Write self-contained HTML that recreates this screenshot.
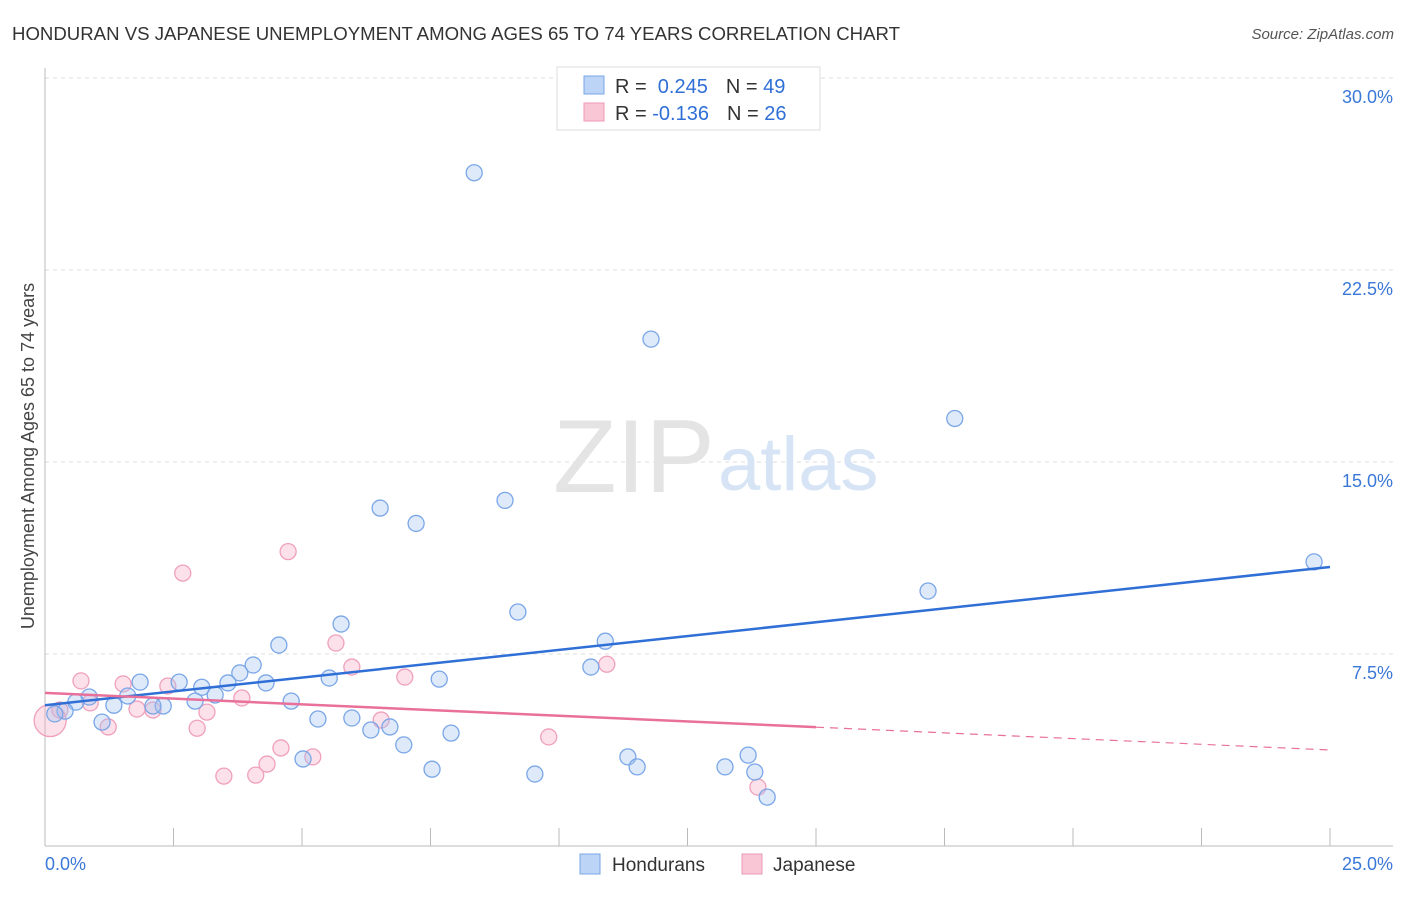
<!DOCTYPE html>
<html><head><meta charset="utf-8"><style>
body{margin:0;background:#fff;font-family:"Liberation Sans",sans-serif}
svg text{font-family:"Liberation Sans",sans-serif}
</style></head><body>
<svg width="1406" height="892" xmlns="http://www.w3.org/2000/svg">
<text x="12" y="40" font-size="18" fill="#333" textLength="888" lengthAdjust="spacingAndGlyphs">HONDURAN VS JAPANESE UNEMPLOYMENT AMONG AGES 65 TO 74 YEARS CORRELATION CHART</text>
<text x="1394" y="39" font-size="15" fill="#555" font-style="italic" text-anchor="end">Source: ZipAtlas.com</text>
<g id="grid"></g>
<g><text x="553" y="492" font-size="104" fill="#e4e4e4" font-family="Liberation Serif">ZIP</text><text x="718" y="490" font-size="76" fill="#d6e4f5">atlas</text></g>
<text transform="translate(34,456) rotate(-90)" font-size="18" fill="#444" text-anchor="middle">Unemployment Among Ages 65 to 74 years</text>
<g id="marks"></g>
<g>
<rect x="557" y="67" width="263" height="63" fill="#fff" stroke="#ddd"/>
<rect x="584" y="76" width="20" height="18" fill="#bcd4f5" stroke="#7aa6e8"/>
<rect x="584" y="103" width="20" height="18" fill="#f9c6d6" stroke="#ef9ab6"/>
<text x="615" y="93" font-size="20" fill="#333">R = <tspan fill="#2f6fd6">&#160;0.245</tspan><tspan dx="18">N = </tspan><tspan fill="#2f6fd6">49</tspan></text>
<text x="615" y="120" font-size="20" fill="#333">R = <tspan fill="#2f6fd6">-0.136</tspan><tspan dx="18">N = </tspan><tspan fill="#2f6fd6">26</tspan></text>
</g>
<g>
<rect x="580" y="854" width="20" height="20" fill="#bcd4f5" stroke="#7aa6e8"/>
<text x="612" y="871" font-size="19" fill="#333">Hondurans</text>
<rect x="742" y="854" width="20" height="20" fill="#f9c6d6" stroke="#ef9ab6"/>
<text x="773" y="871" font-size="19" fill="#333">Japanese</text>
</g>
</svg>
<script>
const yTicks=[7.5,15,22.5,30];
const yTickLabels=["7.5%","15.0%","22.5%","30.0%"];
const xTicks=[0,2.5,5,7.5,10,12.5,15,17.5,20,22.5,25];
const hondX=[8.35,11.79,17.7,8.95,6.52,7.22,24.69,17.18,9.2,5.76,10.9,4.55,4.05,3.79,10.62,7.67,5.53,4.3,1.85,2.61,3.56,3.05,0.86,1.61,3.31,2.92,4.79,1.34,0.6,2.3,2.1,0.39,0.19,1.11,5.31,5.97,6.34,6.71,7.9,6.98,5.02,11.34,13.68,7.53,11.52,13.23,13.81,9.53,14.05];
const hondY=[26.3,19.8,16.7,13.5,13.2,12.6,11.1,9.96,9.14,8.67,8.0,7.85,7.07,6.76,6.99,6.52,6.56,6.37,6.4,6.4,6.37,6.2,5.82,5.86,5.9,5.66,5.66,5.5,5.62,5.47,5.47,5.27,5.16,4.84,4.96,5.0,4.53,4.65,4.41,3.95,3.4,3.48,3.55,3.0,3.09,3.09,2.89,2.81,1.91];
const japX=[4.73,2.68,5.66,5.97,10.93,7.0,0.7,1.52,2.39,3.83,0.88,2.1,1.79,3.15,1.23,2.96,6.54,9.8,4.59,5.21,4.32,3.48,4.1,13.87,0.29,0.1];
const japY=[11.5,10.66,7.93,6.99,7.1,6.6,6.45,6.33,6.25,5.78,5.59,5.31,5.35,5.23,4.65,4.6,4.92,4.26,3.83,3.48,3.2,2.73,2.77,2.3,5.31,4.9];
const hondTrend=[5.5,10.9];
const japTrend=[5.98,3.75];
const X=v=>45+v*51.4, Y=v=>846-v*25.6;
const NS="http://www.w3.org/2000/svg";
const svg=document.querySelector('svg'),grid=document.getElementById('grid'),marks=document.getElementById('marks');
function mk(t,a,p){const e=document.createElementNS(NS,t);for(const k in a)e.setAttribute(k,a[k]);(p||svg).appendChild(e);return e;}
yTicks.forEach((v,i)=>{
 const l=mk('line',{x1:45,x2:1393,y1:Y(v),y2:Y(v),stroke:'#ddd','stroke-dasharray':'4,4'},grid);
 
 
 const t=mk('text',{x:1393,y:Y(v)+25,'font-size':18,fill:'#3a78d8','text-anchor':'end'},grid);t.textContent=yTickLabels[i];
 
 
});
mk('line',{x1:45,x2:45,y1:68,y2:846,stroke:'#bbb'},grid);
mk('line',{x1:45,x2:1393,y1:846,y2:846,stroke:'#bbb'},grid);
xTicks.forEach(v=>{const l=mk('line',{x1:X(v),x2:X(v),y1:828,y2:846,stroke:'#bbb'},grid);
 
 });
let t=mk('text',{x:45,y:870,'font-size':18,fill:'#3a78d8'});t.textContent='0.0%';


t=mk('text',{x:1393,y:870,'font-size':18,fill:'#3a78d8','text-anchor':'end'});t.textContent='25.0%';


japX.forEach((x,i)=>{const c=mk('circle',{cx:X(x),cy:Y(japY[i]),r:i==japX.length-1?16:8,fill:'rgba(246,170,196,0.35)',stroke:'#f0a0bc','stroke-width':1.3},marks);
 
 });
hondX.forEach((x,i)=>{const c=mk('circle',{cx:X(x),cy:Y(hondY[i]),r:8,fill:'rgba(160,195,240,0.35)',stroke:'#7aa6e8','stroke-width':1.3},marks);
 
 });
let l=mk('line',{x1:X(0),y1:Y(hondTrend[0]),x2:X(25),y2:Y(hondTrend[1]),stroke:'#2f6fd6','stroke-width':2.5},marks);


const jy=v=>japTrend[0]+(japTrend[1]-japTrend[0])*v/25;
l=mk('line',{x1:X(0),y1:Y(jy(0)),x2:X(15),y2:Y(jy(15)),stroke:'#e8709a','stroke-width':2.5},marks);


l=mk('line',{x1:X(15),y1:Y(jy(15)),x2:X(25),y2:Y(jy(25)),stroke:'#e8709a','stroke-width':1.2,'stroke-dasharray':'8,6'},marks);


</script>
</body></html>
